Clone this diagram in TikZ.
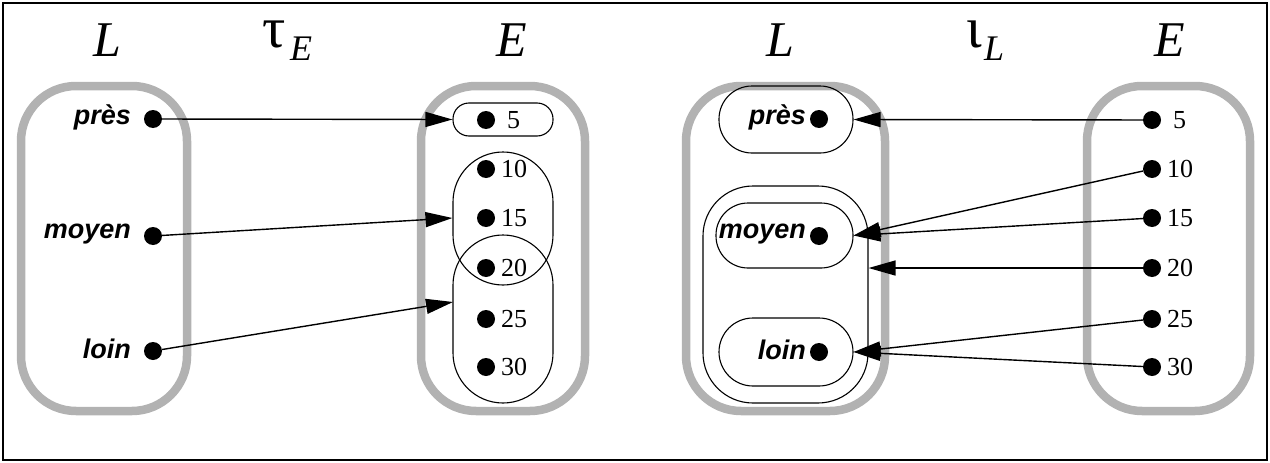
\documentclass[tikz,border=0pt]{standalone}
\usepackage{fontspec}
\setmainfont{Liberation Serif}
\setsansfont{Liberation Sans}
\usetikzlibrary{arrows.meta,calc}
\begin{document}
\begin{tikzpicture}[x=1pt,y=-1pt,
  setbox/.style={draw=black!30, line width=8.5pt, rounded corners=55pt},
  pillbox/.style={draw, line width=1.1pt, inner sep=0pt},
  dot/.style={circle, fill=black, inner sep=0pt, minimum size=18pt},
  word/.style={font=\fontsize{27}{29}\selectfont\sffamily\bfseries\itshape, anchor=east, inner sep=0pt},
  num/.style={font=\fontsize{26}{28}\selectfont, anchor=west, inner sep=0pt},
  title/.style={font=\fontsize{50}{54}\selectfont\itshape, inner sep=0pt},
  greek/.style={font=\fontsize{58}{62}\selectfont, anchor=base west, inner sep=0pt},
  subs/.style={font=\fontsize{36}{40}\selectfont\itshape, anchor=base west, inner sep=0pt},
  conn/.style={line width=1.4pt, -{Triangle[length=27pt,width=15pt]}}]
\useasboundingbox (0,0) rectangle (1270,463);
\draw[line width=2.5pt] (3,3) rectangle (1267,460);

% titles
\node[title] (tL1) at (107,40) {L};
\node[greek] (tau) at (262,47) {τ};
\node[subs] (tauE) at (290,60) {E};
\node[title] (tE1) at (512,40) {E};
\node[title] (tL2) at (780,40) {L};
\node[greek] (iota) at (966,47) {ι};
\node[subs] (iotaL) at (984,60) {L};
\node[title] (tE2) at (1170,40) {E};

% set boxes
\draw[setbox] (21,86) rectangle (187,411);
\draw[setbox] (421,86) rectangle (585,411);
\draw[setbox] (686,86) rectangle (885,411);
\draw[setbox] (1087,86) rectangle (1250,411);

% ---------- left diagram ----------
\node[dot] (lp) at (153,119) {};
\node[dot] (lm) at (153,236) {};
\node[dot] (ll) at (153,351) {};
\node[word] at ($(lp)+(-22,-2)$) {près};
\node[word] at ($(lm)+(-22,-2)$) {moyen};
\node[word] at ($(ll)+(-22,-2)$) {loin};

\node[pillbox, rounded corners=16pt, minimum width=100pt, minimum height=33pt] (p5) at (503,119.5) {};
\node[pillbox, rounded corners=50pt, minimum width=100pt, minimum height=133pt] (pA) at (503,218.5) {};
\node[pillbox, rounded corners=50pt, minimum width=100pt, minimum height=168pt] (pB) at (503,319) {};

\foreach \n/\y in {5/120,10/169,15/218,20/268,25/319,30/367}{
  \node[dot] (ld\n) at (486,\y) {};
}
\node[num] at ($(ld5)+(21,0)$) {5};
\foreach \n in {10,15,20,25,30}{
  \node[num] at ($(ld\n)+(15,0)$) {\n};
}
\coordinate (tA) at (pA.west |- ld15);
\coordinate (tB) at (453,302);
\draw[conn] (lp) -- (p5.west);
\draw[conn] (lm) -- (tA);
\draw[conn] (ll) -- (tB);

% ---------- right diagram ----------
\node[pillbox, rounded corners=50pt, minimum width=165pt, minimum height=217pt] (big) at (785.5,294.5) {};
\node[pillbox, rounded corners=33pt, minimum width=134pt, minimum height=67pt] (rp) at (786,119.5) {};
\node[pillbox, rounded corners=32pt, minimum width=137pt, minimum height=65pt] (rm) at (784.5,235.5) {};
\node[pillbox, rounded corners=34pt, minimum width=134pt, minimum height=68pt] (rl) at (786,352) {};
\node[dot] (rpd) at (819,119) {};
\node[dot] (rmd) at (819,236) {};
\node[dot] (rld) at (819,352) {};
\node[word] at ($(rpd)+(-13,-2)$) {près};
\node[word] at ($(rmd)+(-13,-2)$) {moyen};
\node[word] at ($(rld)+(-13,-2)$) {loin};

\foreach \n/\y in {5/120,10/169,15/218,20/268,25/319,30/367}{
  \node[dot] (rd\n) at (1152,\y) {};
}
\node[num] at ($(rd5)+(21,0)$) {5};
\foreach \n in {10,15,20,25,30}{
  \node[num] at ($(rd\n)+(15,0)$) {\n};
}
\coordinate (tbig) at (big.east |- rd20);
\draw[conn] (rd5) -- (rp.east);
\draw[conn] (rd10) -- (rm.east);
\draw[conn] (rd15) -- (rm.east);
\draw[conn] (rd20) -- (tbig);
\draw[conn] (rd25) -- (rl.east);
\draw[conn] (rd30) -- (rl.east);
\end{tikzpicture}
\end{document}
